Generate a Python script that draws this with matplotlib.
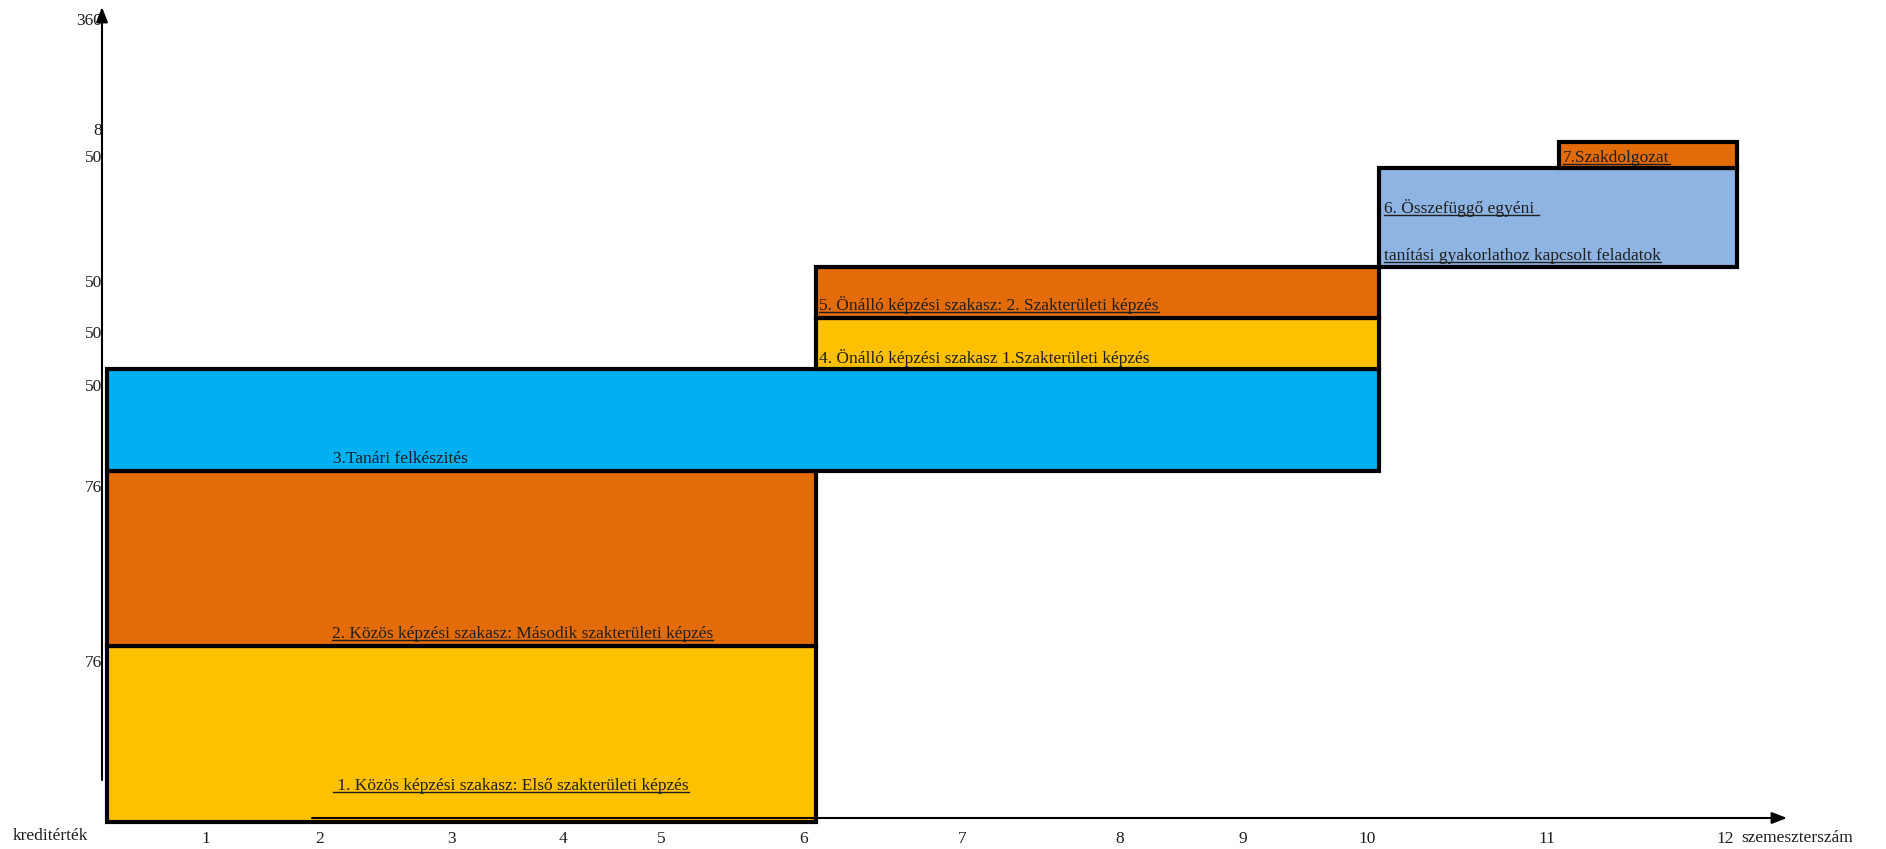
import numpy as np
import matplotlib
matplotlib.use("Agg")
import matplotlib.pyplot as plt
import matplotlib.transforms as mtransforms
from matplotlib.lines import Line2D

# ---------------- data ----------------
phase_labels = [
    [" 1. Közös képzési szakasz: Első szakterületi képzés"],
    ["2. Közös képzési szakasz: Második szakterületi képzés"],
    ["3.Tanári felkészités"],
    ["4. Önálló képzési szakasz 1.Szakterületi képzés"],
    ["5. Önálló képzési szakasz: 2. Szakterületi képzés"],
    ["6. Összefüggő egyéni ", "tanítási gyakorlathoz kapcsolt feladatok"],
    ["7.Szakdolgozat"],
]
phase_credits = [76, 76, 50, 50, 50, 50, 8]
phase_start_semester = [0, 0, 0, 6, 6, 10, 11]
phase_end_semester = [6, 6, 10, 10, 10, 12, 12]
phase_underlined = [True, True, False, False, True, True, True]
total_credits_label = "360"
semester_ticks = list(range(1, 13))
y_axis_title = "kreditérték"
x_axis_title = "szemeszterszám"

# ---------------- style / layout ----------------
W, H, DPI = 1886, 849, 100
FONT = "Liberation Serif"
FS = 12.5
TXT = "#1f1f1f"
phase_colors = ["#FFC000", "#E36C09", "#00B0F0", "#FFC000", "#E36C09", "#8DB4E2", "#E36C09"]

credit_tops = np.cumsum(phase_credits)
credit_bottoms = credit_tops - np.array(phase_credits)

# schematic (not-to-scale) placement of semester and credit boundaries (pixels)
sem_knots = [-1] + list(range(0, 13)) + [13]
sem_px = [0, 107, 218, 332, 464, 575, 673, 816, 974, 1132, 1255, 1379, 1559, 1737, W]
cred_knots = [-12, 0] + list(credit_tops) + [400]
cred_px_top = [H, 822, 646, 471, 369, 318, 267, 168, 142, 0]
cred_px = [H - p for p in cred_px_top]

text_dx = [226, 225, 226, 3, 3, 5, 4]
text_dy = [[32], [8], [8], [6], [8], [54, 7], [6]]
ylab_dy = [-21, -21, -22, -20, -20, 6, 7]

fig = plt.figure(figsize=(W / DPI, H / DPI), dpi=DPI)
ax = fig.add_axes([0, 0, 1, 1])
ax.set_xscale("function", functions=(lambda s: np.interp(s, sem_knots, sem_px),
                                     lambda p: np.interp(p, sem_px, sem_knots)))
ax.set_yscale("function", functions=(lambda c: np.interp(c, cred_knots, cred_px),
                                     lambda p: np.interp(p, cred_px[::-1][::-1], cred_knots)))
ax.set_xlim(sem_knots[0], sem_knots[-1])
ax.set_ylim(cred_knots[0], cred_knots[-1])
ax.axis("off")

starts = np.array(phase_start_semester)
widths = np.array(phase_end_semester) - starts
ax.bar(starts, phase_credits, width=widths, bottom=credit_bottoms, align="edge",
       color=phase_colors, edgecolor="black", linewidth=3, zorder=2)

underline_items = []
for i, lines in enumerate(phase_labels):
    for line, dy in zip(lines, text_dy[i]):
        tr = mtransforms.offset_copy(ax.transData, fig=fig, x=text_dx[i], y=dy, units="dots")
        t = ax.text(starts[i], credit_bottoms[i], line, transform=tr, ha="left",
                    va="baseline", fontsize=FS, color=TXT, family=FONT, zorder=5)
        if phase_underlined[i]:
            underline_items.append((t, tr, starts[i], credit_bottoms[i]))

# y labels (credit of each phase)
for i, c in enumerate(phase_credits):
    tr = mtransforms.offset_copy(ax.transData, fig=fig, x=-5, y=ylab_dy[i], units="dots")
    ax.text(0, credit_tops[i], str(c), transform=tr, ha="right", va="baseline",
            fontsize=FS, color=TXT, family=FONT)
tr = mtransforms.offset_copy(ax.transData, fig=fig, x=-5, y=-25, units="dots")
ax.text(0, cred_knots[-1], total_credits_label, transform=tr, ha="right", va="baseline",
        fontsize=FS, color=TXT, family=FONT)

# x tick labels
for s in semester_ticks:
    tr = mtransforms.offset_copy(ax.transData, fig=fig, x=-12, y=-21, units="dots")
    ax.text(s, 0, str(s), transform=tr, ha="center", va="baseline",
            fontsize=FS, color=TXT, family=FONT)

fig.text(13 / W, (H - 840) / H, y_axis_title, ha="left", va="baseline",
         fontsize=FS, color=TXT, family=FONT)
fig.text(1741 / W, (H - 842) / H, x_axis_title, ha="left", va="baseline",
         fontsize=FS, color=TXT, family=FONT)

# axis arrows
arrow_kw = dict(arrowstyle="-|>,head_length=0.9,head_width=0.35", color="black",
                lw=1.5, shrinkA=0, shrinkB=0, mutation_scale=10)
ax.annotate("", xy=(1787, H - 818), xytext=(312, H - 818), xycoords="figure pixels",
            textcoords="figure pixels", arrowprops=arrow_kw, zorder=6)
ax.annotate("", xy=(102, H - 7), xytext=(102, H - 780), xycoords="figure pixels",
            textcoords="figure pixels", arrowprops=arrow_kw, zorder=6)

# underlines
fig.canvas.draw()
renderer = fig.canvas.get_renderer()
for t, tr, x, y in underline_items:
    bb = t.get_window_extent(renderer)
    yb = tr.transform((x, y))[1] - 2
    fig.add_artist(Line2D([bb.x0 / W, bb.x1 / W], [yb / H, yb / H],
                          transform=fig.transFigure, color=TXT, lw=1.0, zorder=7))

fig.savefig("out.png", dpi=DPI)
